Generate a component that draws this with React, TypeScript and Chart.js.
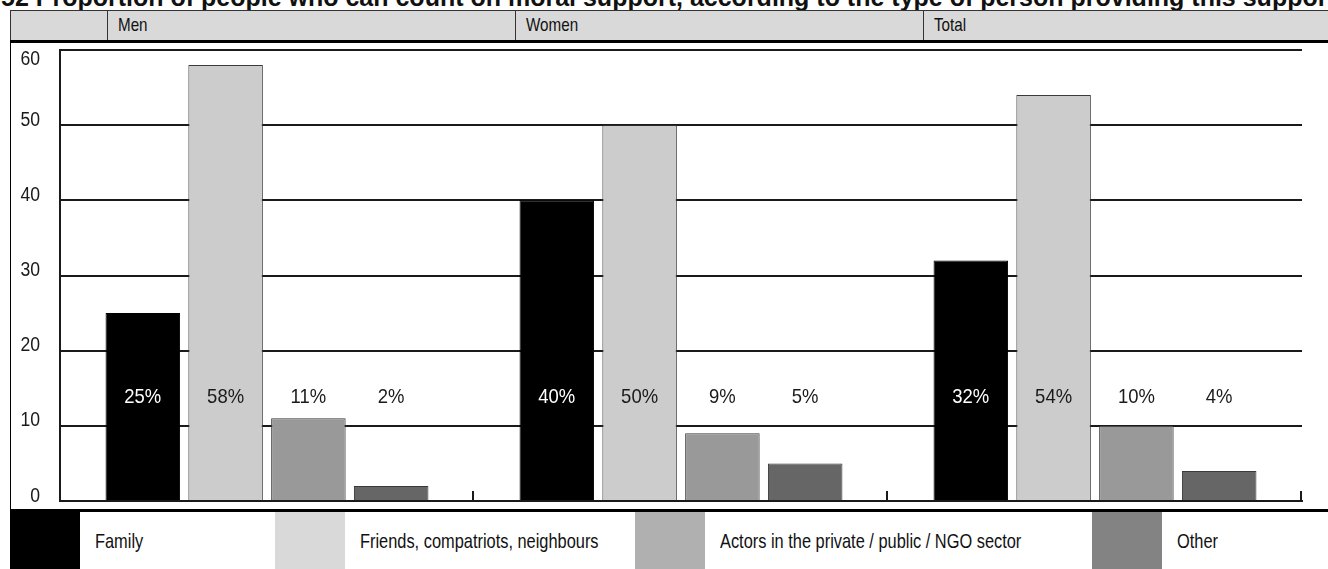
import React, { useEffect, useRef } from "react";
import { Chart, registerables } from "chart.js";

Chart.register(...registerables);

const TITLE =
  "52 Proportion of people who can count on moral support, according to the type of person providing this support";
const GROUPS = ["Men", "Women", "Total"];
const SERIES = [
  "Family",
  "Friends, compatriots, neighbours",
  "Actors in the private / public / NGO sector",
  "Other",
];
const FAMILY = [25, 40, 32];
const FRIENDS = [58, 50, 54];
const ACTORS = [11, 9, 10];
const OTHER = [2, 5, 4];
const Y_TICKS = [0, 10, 20, 30, 40, 50, 60];

const BAR_COLORS = ["#000000", "#cccccc", "#999999", "#666666"];
const BAR_BORDERS = ["#000000", "#3a3a3a", "#3a3a3a", "#3a3a3a"];
const LEGEND_COLORS = ["#000000", "#d9d9d9", "#b0b0b0", "#838383"];
const LABEL_LEVEL = 13.8;

const FONT = "'Liberation Sans', Arial, sans-serif";

const CANVAS_W = 1317;
const CANVAS_H = 465;

function squeezedText(ctx: any, text: string, x: number, y: number, align: string, k: number) {
  ctx.save();
  ctx.translate(x, y);
  ctx.scale(k, 1);
  ctx.textAlign = align;
  ctx.fillText(text, 0, 0);
  ctx.restore();
}

const overlay = {
  id: "overlay",
  afterDatasetsDraw(chart: any) {
    const ctx = chart.ctx;
    const xs = chart.scales.x;
    const ys = chart.scales.y;
    const area = chart.chartArea;
    ctx.save();
    // category boundary ticks
    ctx.strokeStyle = "#1a1a1a";
    ctx.lineWidth = 2;
    const n = chart.data.labels.length;
    for (let i = 0; i < n; i++) {
      const bx = Math.round(xs.getPixelForValue(i + 0.5)) - 1;
      ctx.beginPath();
      ctx.moveTo(bx, area.bottom);
      ctx.lineTo(bx, area.bottom - 10);
      ctx.stroke();
    }
    // y labels
    ctx.fillStyle = "#1a1a1a";
    ctx.font = "20px " + FONT;
    ctx.textBaseline = "middle";
    Y_TICKS.forEach((v) => {
      const py = Math.max(ys.getPixelForValue(v) - 5, area.top + 9);
      squeezedText(ctx, String(v), area.left - 20, py, "right", 0.88);
    });
    // bar value labels
    ctx.font = "21px " + FONT;
    const ly = ys.getPixelForValue(LABEL_LEVEL);
    chart.data.datasets.forEach((ds: any, di: number) => {
      const meta = chart.getDatasetMeta(di);
      ctx.fillStyle = di === 0 ? "#ffffff" : "#1a1a1a";
      meta.data.forEach((el: any, i: number) => {
        squeezedText(ctx, ds.data[i] + "%", el.x, ly, "center", 0.88);
      });
    });
    ctx.restore();
  },
};

function BarChart() {
  const ref = useRef<HTMLCanvasElement | null>(null);
  useEffect(() => {
    if (!ref.current) return;
    const seriesData = [FAMILY, FRIENDS, ACTORS, OTHER];
    const chart = new Chart(ref.current, {
      type: "bar",
      data: {
        labels: GROUPS,
        datasets: SERIES.map((name, i) => ({
          label: name,
          data: seriesData[i],
          backgroundColor: BAR_COLORS[i],
          borderColor: BAR_BORDERS[i],
          borderWidth: 1,
          categoryPercentage: 0.8,
          barPercentage: 0.9,
        })),
      },
      options: {
        animation: false,
        responsive: false,
        devicePixelRatio: 1,
        layout: { padding: { left: 0, right: 26, top: 6, bottom: 8 } },
        plugins: {
          legend: { display: false },
          tooltip: { enabled: false },
          title: { display: false },
        },
        scales: {
          x: {
            ticks: { display: false },
            grid: { display: false },
            border: { display: true, color: "#1a1a1a", width: 2 },
            afterFit: (s: any) => {
              s.height = 0;
            },
          },
          y: {
            min: 0,
            max: 60,
            ticks: { display: false, stepSize: 10 },
            grid: { color: "#1a1a1a", lineWidth: 2, drawTicks: false },
            border: { display: true, color: "#1a1a1a", width: 2 },
            afterFit: (s: any) => {
              s.width = 49;
            },
          },
        },
      },
      plugins: [overlay],
    });
    return () => chart.destroy();
  }, []);
  return (
    <canvas
      ref={ref}
      width={CANVAS_W}
      height={CANVAS_H}
      style={{ position: "absolute", left: 11, top: 44, width: CANVAS_W, height: CANVAS_H }}
    />
  );
}

const HEADER_CELLS = [10, 107, 515, 923];
const LEGEND_SWATCH_X = [10, 275, 635, 1092];

function Squeezed({ children, size, k }: { children: any; size: number; k: number }) {
  return (
    <span
      style={{
        display: "inline-block",
        fontSize: size,
        transform: `scaleX(${k})`,
        transformOrigin: "left center",
        whiteSpace: "nowrap",
      }}
    >
      {children}
    </span>
  );
}

export default function App() {
  return (
    <div
      style={{
        position: "absolute",
        left: 0,
        top: 0,
        width: 1328,
        height: 569,
        overflow: "hidden",
        background: "#fff",
        fontFamily: FONT,
        color: "#111",
      }}
    >
      <div
        style={{
          position: "absolute",
          left: 1,
          top: -15,
          fontFamily: FONT,
          fontWeight: "bold",
          fontSize: 25,
          lineHeight: "25px",
          whiteSpace: "nowrap",
          color: "#111",
        }}
      >
        {TITLE}
      </div>
      <div
        style={{
          position: "absolute",
          left: 10,
          top: 10,
          width: 1318,
          height: 30,
          background: "#d9d9d9",
          borderTop: "1px solid #333",
          borderLeft: "1px solid #333",
          boxSizing: "border-box",
        }}
      />
      {HEADER_CELLS.slice(1).map((x, i) => (
        <React.Fragment key={i}>
          <div
            style={{
              position: "absolute",
              left: x,
              top: 10,
              width: 1,
              height: 30,
              background: "#333",
            }}
          />
          <div
            style={{
              position: "absolute",
              left: x + 11,
              top: 10,
              height: 30,
              lineHeight: "30px",
              whiteSpace: "nowrap",
            }}
          >
            <Squeezed size={19} k={0.8}>{GROUPS[i]}</Squeezed>
          </div>
        </React.Fragment>
      ))}
      <div style={{ position: "absolute", left: 10, top: 40, width: 1318, height: 3, background: "#000" }} />
      <div style={{ position: "absolute", left: 10, top: 43, width: 1, height: 468, background: "#000" }} />
      <BarChart />
      <div style={{ position: "absolute", left: 10, top: 509, width: 1318, height: 3, background: "#000" }} />
      {LEGEND_SWATCH_X.map((x, i) => (
        <React.Fragment key={i}>
          <div
            style={{
              position: "absolute",
              left: x,
              top: 512,
              width: 70,
              height: 57,
              background: LEGEND_COLORS[i],
            }}
          />
          <div
            style={{
              position: "absolute",
              left: x + 85,
              top: 512,
              height: 57,
              lineHeight: "57px",
              whiteSpace: "nowrap",
            }}
          >
            <Squeezed size={21} k={0.78}>{SERIES[i]}</Squeezed>
          </div>
        </React.Fragment>
      ))}
    </div>
  );
}
